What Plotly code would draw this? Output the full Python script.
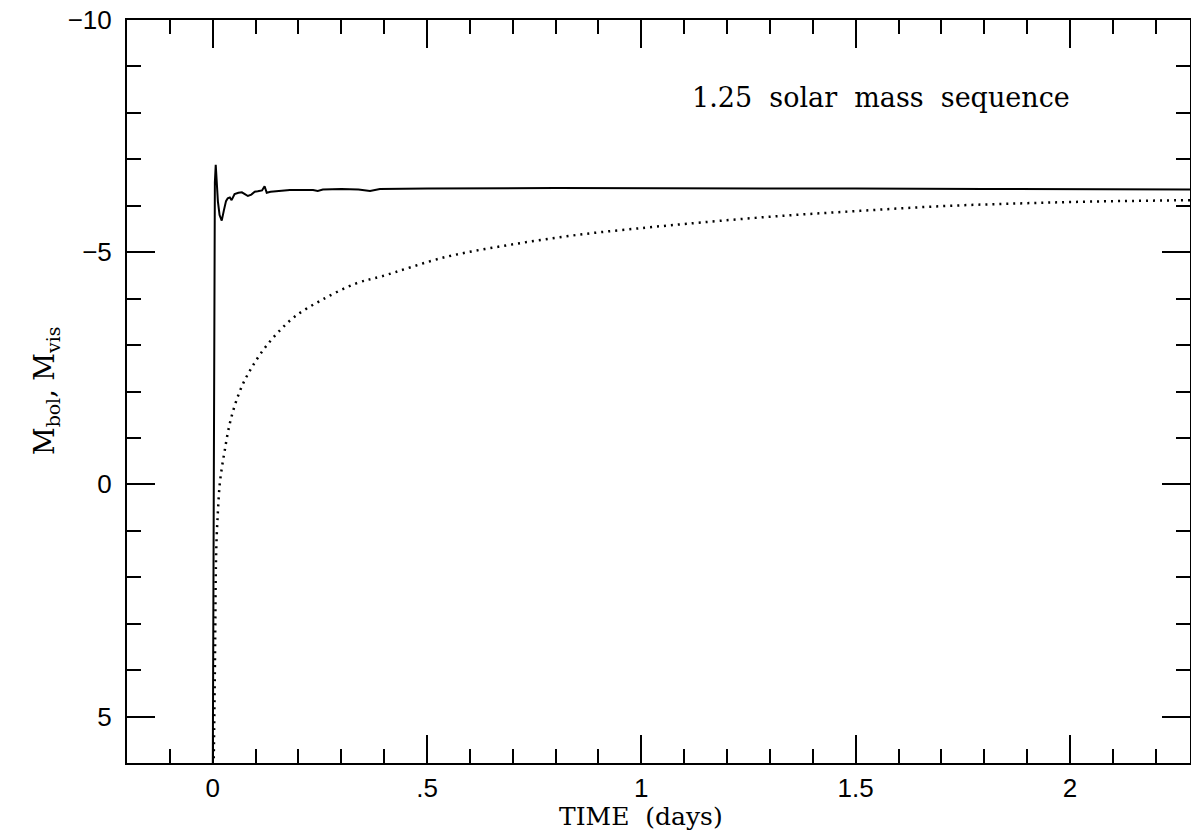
import plotly.graph_objects as go

# bolometric magnitude (solid)
t_bol = [0.0, 0.003, 0.005, 0.007, 0.009, 0.012, 0.016, 0.021, 0.026, 0.031, 0.035,
         0.04, 0.044, 0.051, 0.06, 0.068, 0.075, 0.082, 0.09, 0.098, 0.105, 0.115,
         0.121, 0.126, 0.135, 0.149, 0.18, 0.234, 0.245, 0.257, 0.3, 0.34, 0.367,
         0.39, 0.5, 0.8, 1.0, 1.2, 1.5, 1.8, 2.0, 2.28]
m_bol = [6.5, -5.0, -6.5, -6.88, -6.6, -6.1, -5.8, -5.68, -5.9, -6.1, -6.16,
         -6.18, -6.12, -6.25, -6.28, -6.29, -6.25, -6.21, -6.24, -6.3, -6.31, -6.33,
         -6.42, -6.28, -6.3, -6.31, -6.34, -6.34, -6.32, -6.35, -6.36, -6.35, -6.32,
         -6.36, -6.37, -6.38, -6.38, -6.37, -6.37, -6.36, -6.36, -6.35]

# visual magnitude (dotted)
t_vis = [0.002, 0.005, 0.006, 0.007, 0.0086, 0.012, 0.0163, 0.022, 0.028, 0.035,
         0.0436, 0.055, 0.0708, 0.09, 0.1175, 0.15, 0.191, 0.254, 0.335, 0.394,
         0.545, 0.701, 0.857, 1.012, 1.14, 1.323, 1.51, 1.697, 1.88, 2.05, 2.28]
m_vis = [6.2, 4.0, 3.0, 2.0, 1.28, 0.6, 0.0, -0.4, -0.73, -1.1,
         -1.45, -1.8, -2.17, -2.5, -2.89, -3.25, -3.61, -3.97, -4.33, -4.48,
         -4.9, -5.17, -5.38, -5.53, -5.64, -5.78, -5.89, -5.99, -6.05, -6.09, -6.12]

x_ticks = [0, 0.5, 1, 1.5, 2]
x_labels = ["0", ".5", "1", "1.5", "2"]
y_ticks = [-10, -5, 0, 5]
y_labels = ["\u221210", "\u22125", "0", "5"]

fig = go.Figure()
fig.add_trace(go.Scatter(x=t_bol, y=m_bol, mode="lines",
                         line=dict(color="black", width=2)))
fig.add_trace(go.Scatter(x=t_vis, y=m_vis, mode="lines", line_shape="spline",
                         line=dict(color="black", width=2.5, dash="2px,5px")))

axis_common = dict(showgrid=False, zeroline=False, showline=True, linecolor="black",
                   linewidth=2, mirror="allticks", ticks="inside", ticklen=28,
                   tickwidth=1.5, tickcolor="black", automargin=False,
                   tickfont=dict(family="Liberation Sans", size=26, color="black"))

fig.update_xaxes(range=[-0.2, 2.28], tickmode="array", tickvals=x_ticks, ticktext=x_labels,
                 minor=dict(tickmode="linear", tick0=0, dtick=0.1, ticks="inside",
                            ticklen=14, tickwidth=1.5, tickcolor="black"),
                 ticklabelstandoff=1, **axis_common)
fig.update_yaxes(range=[6, -10], tickmode="array", tickvals=y_ticks, ticktext=y_labels,
                 minor=dict(tickmode="linear", tick0=0, dtick=1, ticks="inside",
                            ticklen=14, tickwidth=1.5, tickcolor="black"),
                 ticklabelstandoff=8, **axis_common)

serif = "DejaVu Serif"
fig.add_annotation(x=1.113, y=-8.34, xanchor="left", yanchor="middle", showarrow=False,
                   text="1.25&nbsp;&nbsp;solar&nbsp;&nbsp;mass&nbsp;&nbsp;sequence",
                   font=dict(family=serif, size=27, color="black"))
fig.add_annotation(x=1, xref="x", yref="paper", y=0, yshift=-53,
                   xanchor="center", yanchor="middle", showarrow=False,
                   text="TIME&nbsp;&nbsp;(days)",
                   font=dict(family=serif, size=25, color="black"))
fig.add_annotation(xref="paper", yref="paper", x=0, y=0.5, xshift=-100,
                   textangle=-90, showarrow=False,
                   text="M<sub>bol</sub>,&nbsp;M<sub>vis</sub>",
                   font=dict(family=serif, size=27, color="black"))

fig.update_layout(width=1191, height=835, showlegend=False,
                  plot_bgcolor="white", paper_bgcolor="white",
                  margin=dict(l=127, r=1, t=20, b=72))

# drop the default 8px page margin so the figure sits at the window's corner
fig.write_html("out.html", config={"displayModeBar": False},
               post_script="document.body.style.margin='0';")
